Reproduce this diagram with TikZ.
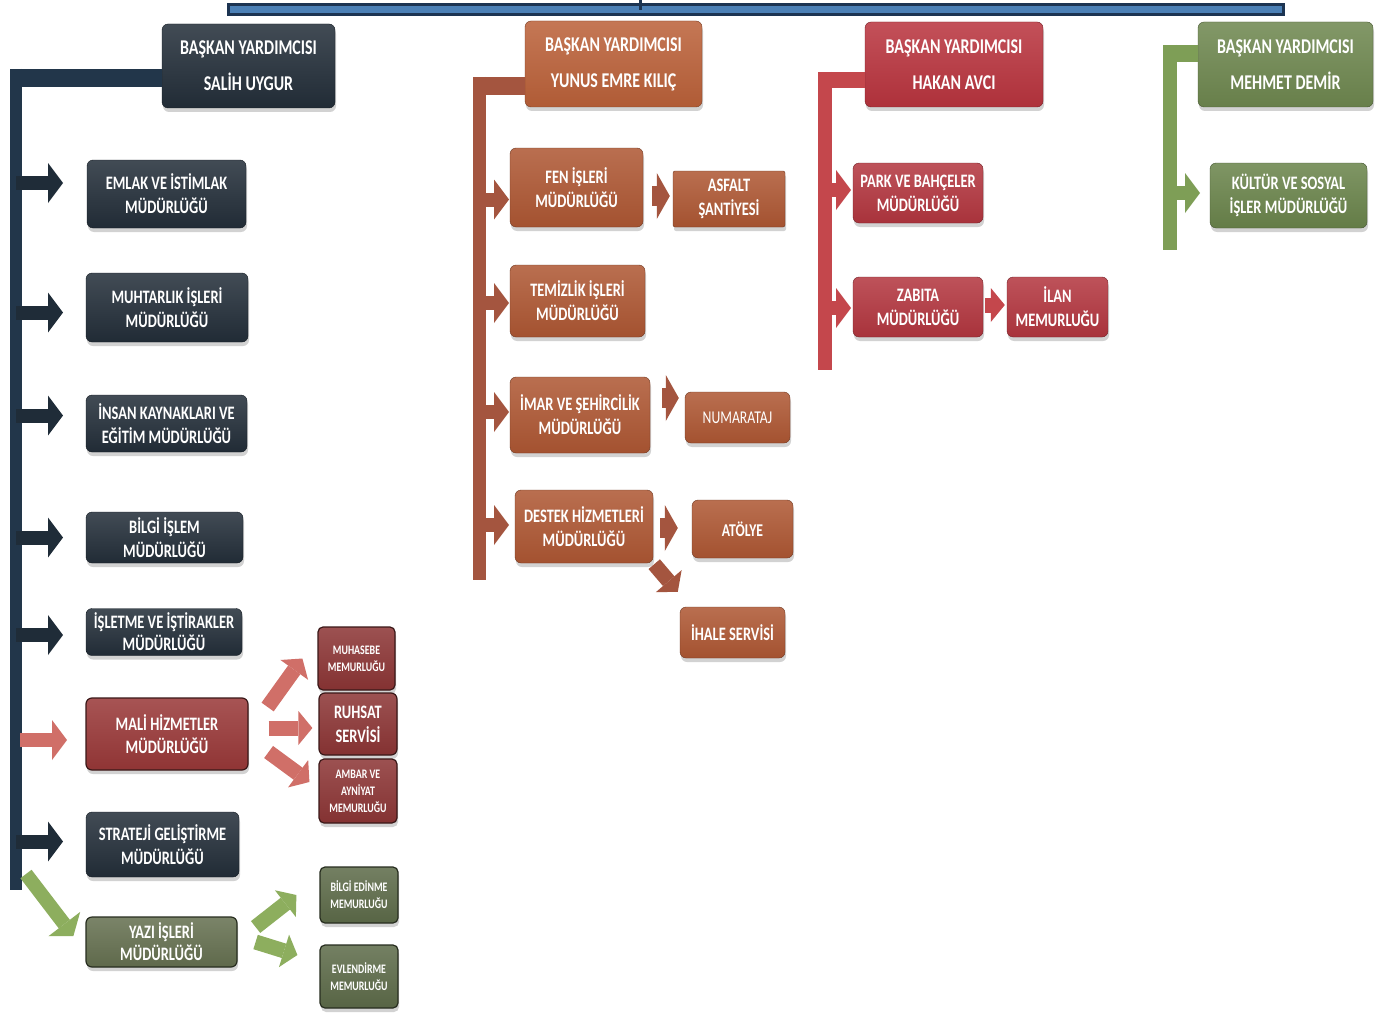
\documentclass[tikz,border=0pt]{standalone}
\usepackage{fontspec}
\setmainfont{Carlito}[FakeStretch=0.76]
\usetikzlibrary{arrows.meta,shadows,calc}
\definecolor{navy}{HTML}{232E39}
\definecolor{navyedge}{HTML}{141B22}
\definecolor{navybar}{HTML}{22364A}
\definecolor{navyarr}{HTML}{1F2C38}
\definecolor{brownhead}{HTML}{BB6139}
\definecolor{brownbox}{HTML}{AE5733}
\definecolor{brownbar}{HTML}{A4553F}
\definecolor{redhead}{HTML}{B9343E}
\definecolor{redbox}{HTML}{B3363F}
\definecolor{redbar}{HTML}{C4474C}
\definecolor{greenhead}{HTML}{6E874F}
\definecolor{greenbox}{HTML}{6A844B}
\definecolor{greenbar}{HTML}{7E9E56}
\definecolor{malibox}{HTML}{993838}
\definecolor{maliedge}{HTML}{3A1818}
\definecolor{malisub}{HTML}{8C3535}
\definecolor{pinkarr}{HTML}{D06F68}
\definecolor{yazibox}{HTML}{657050}
\definecolor{yaziedge}{HTML}{272D1F}
\definecolor{yazisub}{HTML}{5D6B49}
\definecolor{greenarr}{HTML}{8DAE5E}
\definecolor{topdark}{HTML}{1C3452}
\definecolor{topblue}{HTML}{4B80B6}
\tikzset{
  box/.style={rectangle, rounded corners=6pt, align=center, text=white, inner sep=1pt,
    font=\bfseries\fontsize{19}{24}\selectfont,
    drop shadow={opacity=0.35, shadow xshift=1pt, shadow yshift=-4pt}},
  gloss/.style={top color=#1!86!white, bottom color=#1!94!black, draw=#1!65!black},
  headbox/.style={box, font=\bfseries\fontsize{21}{36}\selectfont},
  smallbox/.style={box, rounded corners=5pt, font=\bfseries\fontsize{13}{17}\selectfont},
  sz/.style 2 args={minimum width=#1pt, minimum height=#2pt},
  blk/.style={line width=14pt, -{Triangle[length=15pt,width=40pt,line width=0pt]}},
  blkwide/.style={line width=20pt, -{Triangle[length=13pt,width=46pt,line width=0pt]}},
  blkmid/.style={line width=15pt, -{Triangle[length=14pt,width=34pt,line width=0pt]}},
}
\begin{document}
\begin{tikzpicture}[x=1pt,y=-1pt]
\useasboundingbox (0,0) rectangle (1378,1014);
\fill[white] (0,0) rectangle (1378,1014);

% top bar
\coordinate (tbl) at (227,10);
\coordinate (tbr) at (1285,10);
\coordinate (tn) at (640,0);
\draw[topdark, line width=13pt] (tbl) -- (tbr);
\draw[topblue, line width=7pt] ([xshift=3pt]tbl) -- ([xshift=-3pt]tbr);
\draw[topdark, line width=3pt] (tn) -- (tn |- tbl);

% ---------------- column 1 ----------------
\node[headbox, sz={173}{84}, gloss=navy, draw=navyedge] (h1) at (248.5,66) {BAŞKAN YARDIMCISI\\SALİH UYGUR};
\node[box, sz={159}{68}, gloss=navy, draw=navyedge] (e1) at (166.5,194) {EMLAK VE İSTİMLAK\\MÜDÜRLÜĞÜ};
\node[box, sz={162}{69}, gloss=navy, draw=navyedge] (e2) at (167,307.5) {MUHTARLIK İŞLERİ\\MÜDÜRLÜĞÜ};
\node[box, sz={161}{57}, gloss=navy, draw=navyedge] (e3) at (166.5,423.5) {İNSAN KAYNAKLARI VE\\EĞİTİM MÜDÜRLÜĞÜ};
\node[box, sz={157}{51}, gloss=navy, draw=navyedge] (e4) at (164.5,537.5) {BİLGİ İŞLEM\\MÜDÜRLÜĞÜ};
\node[box, sz={156}{47}, gloss=navy, draw=navyedge, font=\bfseries\fontsize{19}{22}\selectfont] (e5) at (164,632) {İŞLETME VE İŞTİRAKLER\\MÜDÜRLÜĞÜ};
\node[box, sz={162}{72}, gloss=malibox, draw=maliedge, line width=1.2pt, font=\bfseries\fontsize{19}{23}\selectfont] (e6) at (167,734) {MALİ HİZMETLER\\MÜDÜRLÜĞÜ};
\node[box, sz={153}{65}, gloss=navy, draw=navyedge] (e7) at (162.5,844.5) {STRATEJİ GELİŞTİRME\\MÜDÜRLÜĞÜ};
\node[box, sz={151}{50}, gloss=yazibox, draw=yaziedge, line width=1.2pt, font=\bfseries\fontsize{19}{22}\selectfont] (e8) at (161.5,942) {YAZI İŞLERİ\\MÜDÜRLÜĞÜ};

\node[smallbox, sz={77}{63}, gloss=malisub, draw=maliedge, line width=1.2pt] (m1) at (356.5,658.5) {MUHASEBE\\MEMURLUĞU};
\node[box, sz={78}{62}, gloss=malisub, draw=maliedge, line width=1.2pt] (m2) at (358,724) {RUHSAT\\SERVİSİ};
\node[smallbox, sz={78}{64}, gloss=malisub, draw=maliedge, line width=1.2pt] (m3) at (358,791) {AMBAR VE\\AYNİYAT\\MEMURLUĞU};
\node[smallbox, sz={78}{56}, gloss=yazisub, draw=yaziedge, line width=1.2pt] (y1) at (359,895) {BİLGİ EDİNME\\MEMURLUĞU};
\node[smallbox, sz={78}{63}, gloss=yazisub, draw=yaziedge, line width=1.2pt] (y2) at (359,976.5) {EVLENDİRME\\MEMURLUĞU};

\coordinate (c1t) at (16,78);
\coordinate (c1b) at (16,890);
\coordinate (a1) at (63,0);
\draw[navybar, line width=18pt] (h1.west |- c1t) -- ([xshift=-6pt]c1t);
\draw[navybar, line width=12pt] ([yshift=9pt]c1t) -- (c1b);
\draw[blk, navyarr] ($(c1t |- e1.west)+(0,-11)$) -- ($(a1 |- e1.west)+(0,-11)$);
\draw[blk, navyarr] ($(c1t |- e2.west)+(0,5)$) -- ($(a1 |- e2.west)+(0,5)$);
\draw[blk, navyarr] ($(c1t |- e3.west)+(0,-8)$) -- ($(a1 |- e3.west)+(0,-8)$);
\draw[blk, navyarr] (c1t |- e4.west) -- (a1 |- e4.west);
\draw[blk, navyarr] ($(c1t |- e5.west)+(0,3)$) -- ($(a1 |- e5.west)+(0,3)$);
\draw[blk, pinkarr] ($(c1t |- e6.west)+(4,6)$) -- ($(a1 |- e6.west)+(4,6)$);
\draw[blk, navyarr] ($(c1t |- e7.west)+(0,-3)$) -- ($(a1 |- e7.west)+(0,-3)$);
\coordinate (gs) at (26,874);
\draw[blk, greenarr] (gs) -- ($(e8.west)+(-12,-6)$);

\draw[blkmid, pinkarr] ($(e6.east)+(19,-27)$) -- ($(m1.west)+(-15,0)$);
\draw[blkmid, pinkarr] ($(e6.east)+(20,-6)$) -- ($(m2.west)+(-6,4)$);
\draw[blkmid, pinkarr] ($(e6.east)+(20,18)$) -- ($(m3.west)+(-9,-9)$);
\draw[blkmid, greenarr] ($(e8.east)+(18,-15)$) -- ($(y1.west)+(-23,0)$);
\draw[blkmid, greenarr] ($(e8.east)+(18,0)$) -- ($(y2.west)+(-22,-21.5)$);

% ---------------- column 2 ----------------
\node[headbox, sz={177}{86}, gloss=brownhead] (h2) at (613.5,64) {BAŞKAN YARDIMCISI\\YUNUS EMRE KILIÇ};
\node[box, sz={133}{79}, gloss=brownbox] (f1) at (576.5,187.5) {FEN İŞLERİ\\MÜDÜRLÜĞÜ};
\node[box, sz={112}{56}, gloss=brownbox, rounded corners=2pt] (f1a) at (729,199) {ASFALT\\ŞANTİYESİ};
\node[box, sz={135}{72}, gloss=brownbox] (f2) at (577.5,301) {TEMİZLİK İŞLERİ\\MÜDÜRLÜĞÜ};
\node[box, sz={140}{76}, gloss=brownbox] (f3) at (580,415) {İMAR VE ŞEHİRCİLİK\\MÜDÜRLÜĞÜ};
\node[box, sz={105}{51}, gloss=brownbox, font=\fontsize{18}{22}\selectfont] (f3a) at (737.5,417.5) {NUMARATAJ};
\node[box, sz={138}{73}, gloss=brownbox] (f4) at (584,526.5) {DESTEK HİZMETLERİ\\MÜDÜRLÜĞÜ};
\node[box, sz={101}{58}, gloss=brownbox, font=\bfseries\fontsize{18}{22}\selectfont] (f4a) at (742.5,529) {ATÖLYE};
\node[box, sz={105}{51}, gloss=brownbox] (f4b) at (732.5,632.5) {İHALE SERVİSİ};

\coordinate (c2t) at (479.5,86);
\coordinate (c2b) at (479.5,580);
\coordinate (a2) at (509,0);
\draw[brownbar, line width=18pt] (h2.west |- c2t) -- ([xshift=-6.5pt]c2t);
\draw[brownbar, line width=13pt] ([yshift=9pt]c2t) -- (c2b);
\draw[blk, brownbar] ($(c2t |- f1.west)+(0,12)$) -- ($(a2 |- f1.west)+(0,12)$);
\draw[blk, brownbar] ($(c2t |- f2.west)+(0,2)$) -- ($(a2 |- f2.west)+(0,2)$);
\draw[blk, brownbar] ($(c2t |- f3.west)+(0,-3)$) -- ($(a2 |- f3.west)+(0,-3)$);
\draw[blk, brownbar] ($(c2t |- f4.west)+(0,-1.5)$) -- ($(a2 |- f4.west)+(0,-1.5)$);
\draw[blkwide, brownbar] ($(f1.east)+(9,8.5)$) -- ($(f1a.west)+(-3,-3)$);
\draw[blkwide, brownbar] ($(f3.east)+(12,-17)$) -- ($(f3a.west)+(-6,-19.5)$);
\draw[blkwide, brownbar] ($(f4.east)+(7,1.5)$) -- ($(f4a.west)+(-14,-1)$);
\draw[blkmid, brownbar] ($(f4.south east)+(1,1)$) -- ($(f4b.north west)+(-2,-15)$);

% ---------------- column 3 ----------------
\node[headbox, sz={178}{85}, gloss=redhead] (h3) at (954,64.5) {BAŞKAN YARDIMCISI\\HAKAN AVCI};
\node[box, sz={130}{60}, gloss=redbox] (p1) at (918,193) {PARK VE BAHÇELER\\MÜDÜRLÜĞÜ};
\node[box, sz={130}{60}, gloss=redbox] (p2) at (918,307) {ZABITA\\MÜDÜRLÜĞÜ};
\node[box, sz={101}{60}, gloss=redbox] (p2a) at (1057.5,307) {İLAN\\MEMURLUĞU};

\coordinate (c3t) at (824.5,80);
\coordinate (c3b) at (824.5,370);
\coordinate (a3) at (851,0);
\draw[redbar, line width=16pt] (h3.west |- c3t) -- ([xshift=-7pt]c3t);
\draw[redbar, line width=14pt] ([yshift=8pt]c3t) -- (c3b);
\draw[blk, redbar] ($(c3t |- p1.west)+(0,-3)$) -- ($(a3 |- p1.west)+(0,-3)$);
\draw[blk, redbar] ($(c3t |- p2.west)+(0,1)$) -- ($(a3 |- p2.west)+(0,1)$);
\draw[blkmid, redbar] ($(p2.east)+(2,-2)$) -- ($(p2a.west)+(-2,-2)$);

% ---------------- column 4 ----------------
\node[headbox, sz={175}{85}, gloss=greenhead] (h4) at (1285.5,64.5) {BAŞKAN YARDIMCISI\\MEHMET DEMİR};
\node[box, sz={157}{65}, gloss=greenbox] (k1) at (1288.5,195.5) {KÜLTÜR VE SOSYAL\\İŞLER MÜDÜRLÜĞÜ};

\coordinate (c4t) at (1170,53.5);
\coordinate (c4b) at (1170,250);
\coordinate (a4) at (1200,0);
\draw[greenbar, line width=17pt] (h4.west |- c4t) -- ([xshift=-7pt]c4t);
\draw[greenbar, line width=14pt] ([yshift=8.5pt]c4t) -- (c4b);
\draw[blk, greenbar] ($(c4t |- k1.west)+(0,-2.5)$) -- ($(a4 |- k1.west)+(0,-2.5)$);
\end{tikzpicture}
\end{document}
